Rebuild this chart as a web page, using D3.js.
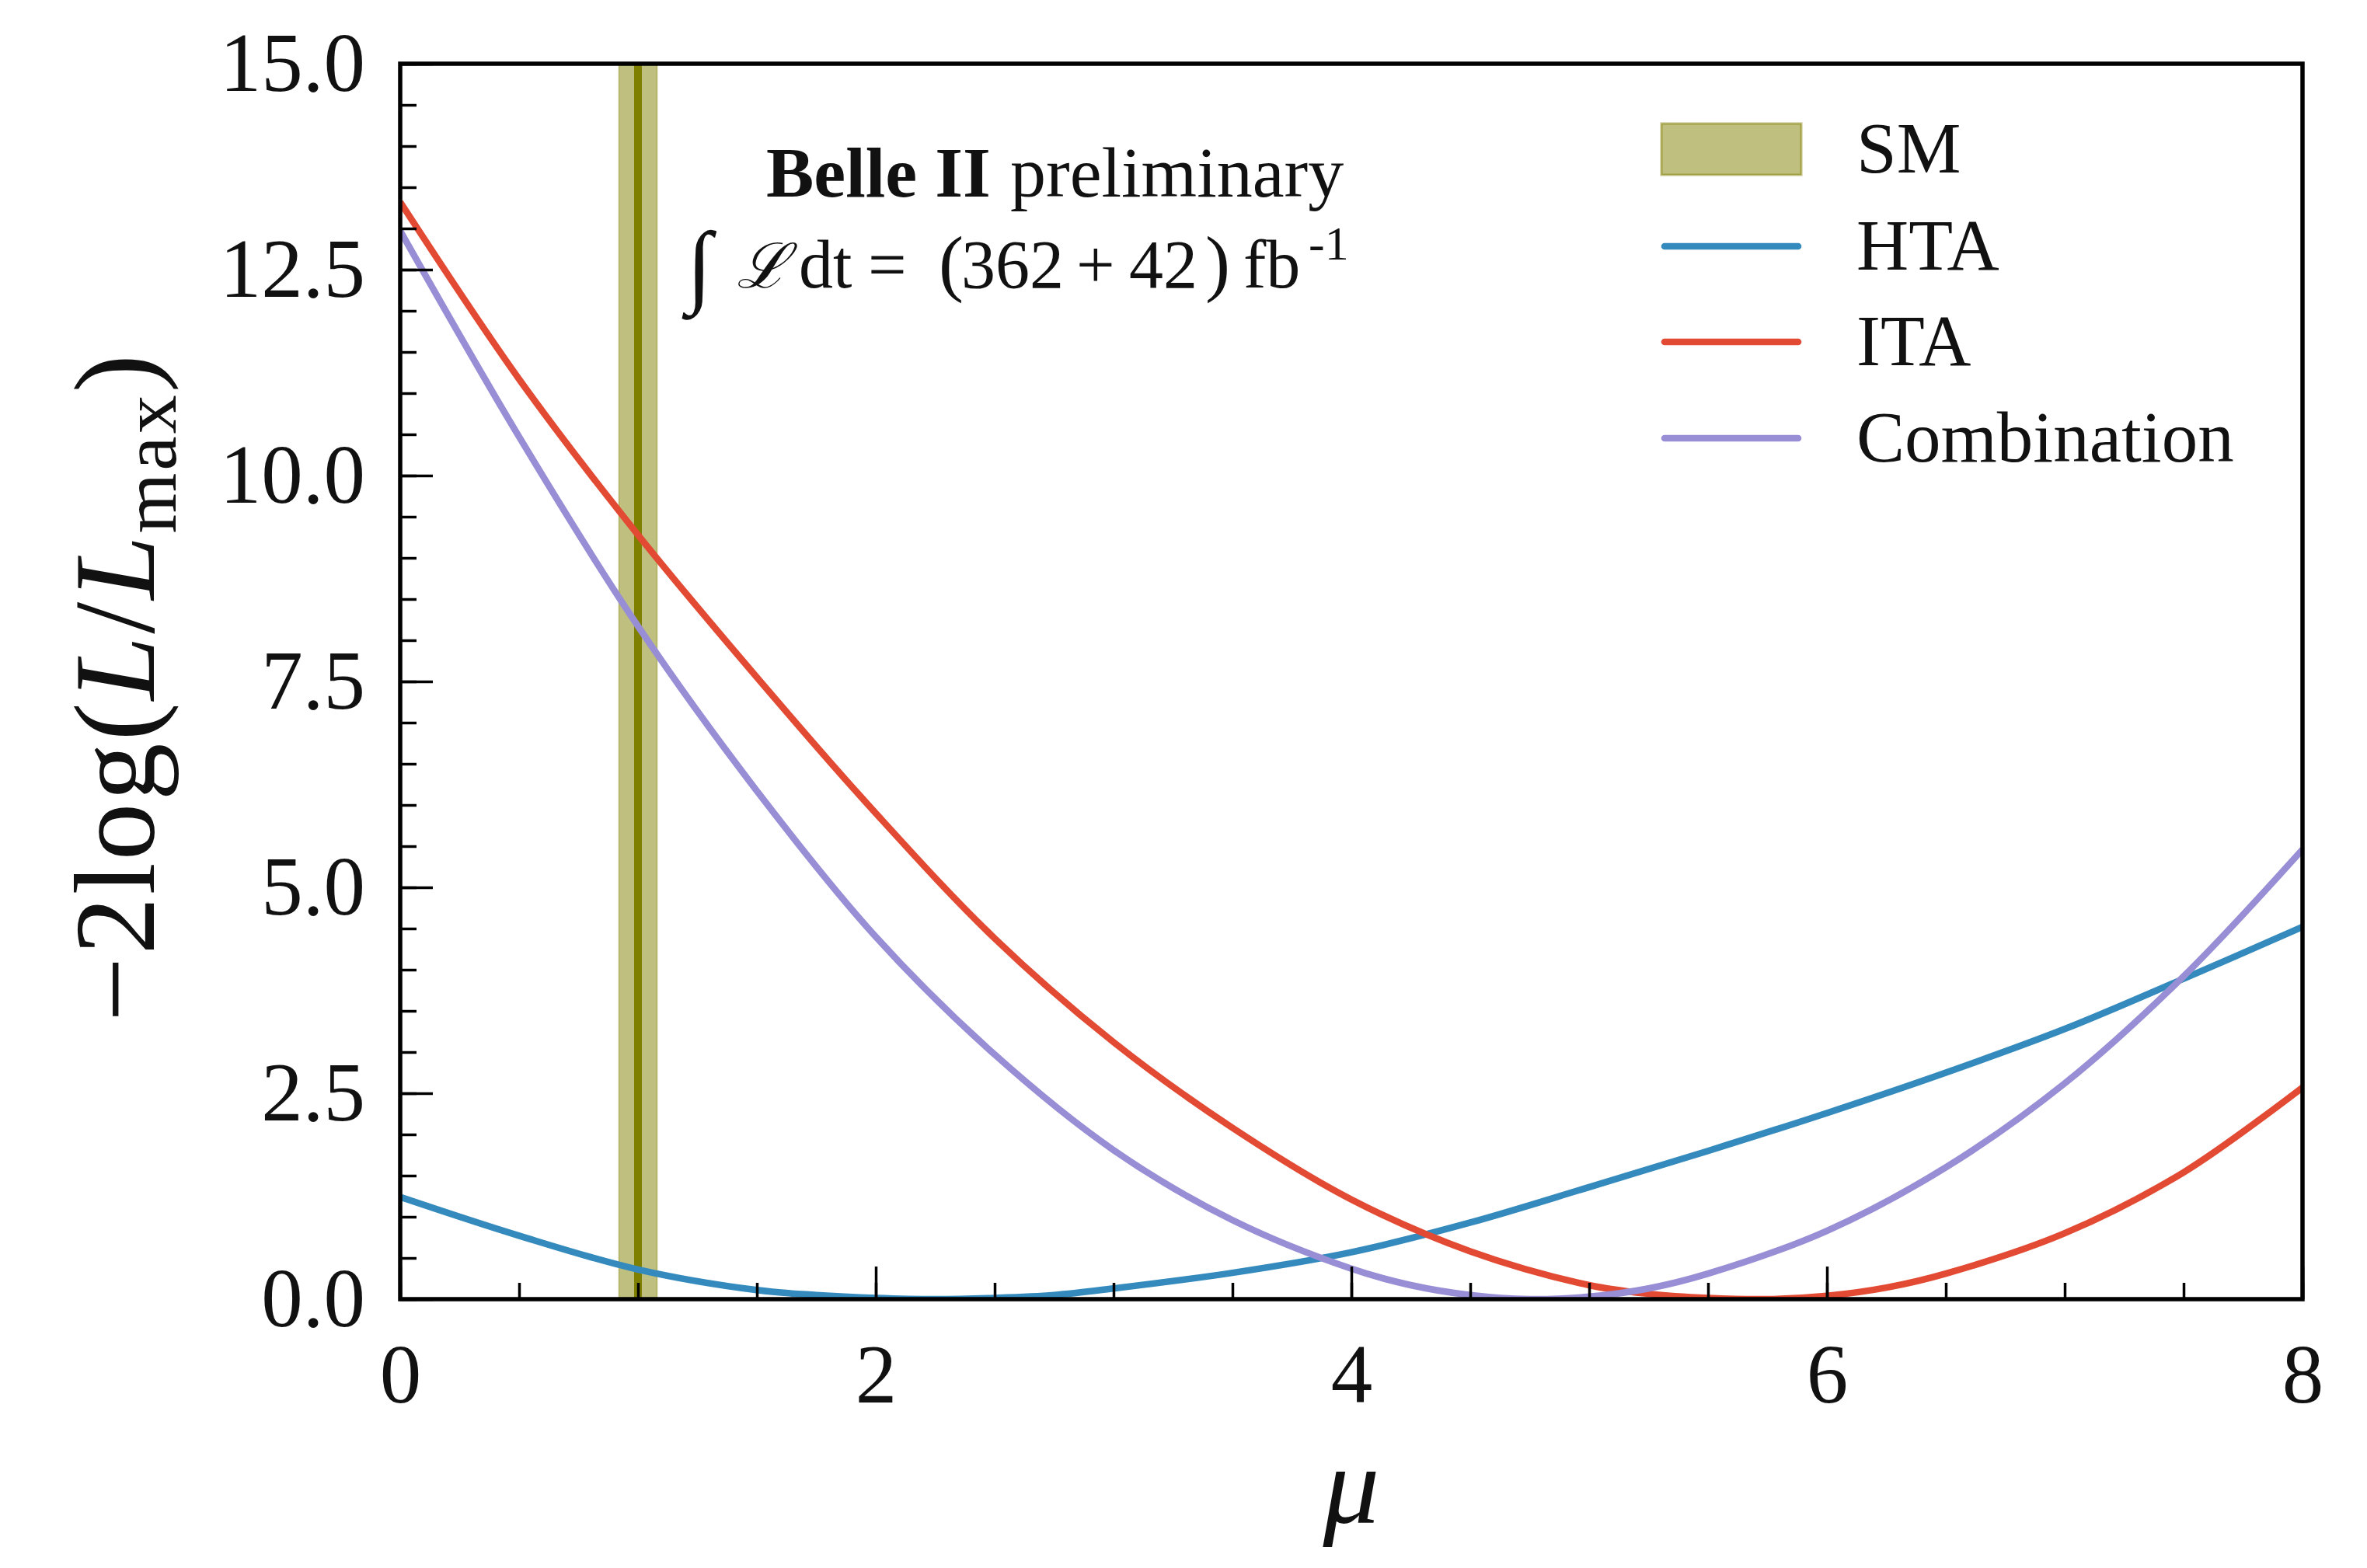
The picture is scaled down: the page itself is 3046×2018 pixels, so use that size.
<!DOCTYPE html>
<html>
<head>
<meta charset="utf-8">
<script src="https://cdn.jsdelivr.net/npm/d3@7"></script>
<style>
  html, body { margin: 0; padding: 0; background: #ffffff; }
  svg { display: block; }
  text { font-family: "Liberation Serif", "DejaVu Serif", serif; fill: #111; }
</style>
</head>
<body>
<svg id="chart" width="3046" height="2018"></svg>
<script>
// ---------------- data ----------------
const htaMu   = [0, 0.5, 1.0, 1.5, 1.75, 2.0, 2.25, 2.5, 2.75, 3.0, 3.5, 4.0, 4.5, 5.0, 5.5, 6.0, 6.5, 7.0, 7.5, 8.0];
const htaNll  = [1.24, 0.77, 0.36, 0.11, 0.05, 0.015, 0.0, 0.015, 0.05, 0.13, 0.32, 0.57, 0.93, 1.36, 1.80, 2.26, 2.75, 3.28, 3.89, 4.52];

const itaMu   = [0, 0.5, 1.0, 1.5, 2.0, 2.5, 3.0, 3.5, 4.0, 4.5, 5.0, 5.25, 5.5, 5.75, 6.0, 6.25, 6.5, 7.0, 7.5, 8.0];
const itaNll  = [13.32, 11.17, 9.28, 7.55, 5.90, 4.38, 3.12, 2.08, 1.21, 0.58, 0.17, 0.065, 0.015, 0.0, 0.04, 0.14, 0.31, 0.80, 1.54, 2.57];

const combMu  = [0, 0.5, 1.0, 1.5, 2.0, 2.5, 3.0, 3.5, 4.0, 4.25, 4.5, 4.75, 5.0, 5.25, 5.5, 6.0, 6.5, 7.0, 7.5, 8.0];
const combNll = [12.97, 10.47, 8.17, 6.17, 4.40, 2.97, 1.81, 0.96, 0.37, 0.17, 0.05, 0.0, 0.03, 0.13, 0.31, 0.83, 1.60, 2.62, 3.92, 5.46];

const smCentral = 1.0;
const smBand    = [0.92, 1.08];

const seriesNames  = ["HTA", "ITA", "Combination"];
const seriesColors = ["#348ABD", "#E24A33", "#988ED5"];
const smName  = "SM";
const smColor = "#808000";

const xMajorTicks = [0, 2, 4, 6, 8];
const yMajorTicks = [0, 2.5, 5, 7.5, 10, 12.5, 15];
const xMinorTicks = d3.range(0, 8.01, 0.5);
const yMinorTicks = d3.range(0, 15.01, 0.5);

// ---------------- layout ----------------
const W = 3046, H = 2018;
const plot = { left: 515, right: 2963, top: 82, bottom: 1672 };

const svg = d3.select("#chart");
svg.append("rect").attr("width", W).attr("height", H).attr("fill", "#ffffff");

const x = d3.scaleLinear().domain([0, 8]).range([plot.left, plot.right]);
const y = d3.scaleLinear().domain([0, 15]).range([plot.bottom, plot.top]);

svg.append("defs").append("clipPath").attr("id", "plotclip")
  .append("rect")
  .attr("x", plot.left).attr("y", plot.top)
  .attr("width", plot.right - plot.left).attr("height", plot.bottom - plot.top);

const g = svg.append("g").attr("clip-path", "url(#plotclip)");

// SM band + central line
g.append("rect")
  .attr("x", x(smBand[0])).attr("y", plot.top)
  .attr("width", x(smBand[1]) - x(smBand[0]))
  .attr("height", plot.bottom - plot.top)
  .attr("fill", smColor).attr("fill-opacity", 0.5)
  .attr("stroke", smColor).attr("stroke-opacity", 0.35).attr("stroke-width", 2);
g.append("line")
  .attr("x1", x(smCentral)).attr("x2", x(smCentral))
  .attr("y1", plot.top).attr("y2", plot.bottom)
  .attr("stroke", smColor).attr("stroke-width", 10);

// curves
const seriesData = [
  d3.zip(htaMu, htaNll),
  d3.zip(itaMu, itaNll),
  d3.zip(combMu, combNll)
];
const line = d3.line()
  .x(d => x(d[0])).y(d => y(d[1]))
  .curve(d3.curveCatmullRom.alpha(0.5));

seriesData.forEach((data, i) => {
  g.append("path")
    .datum(data)
    .attr("d", line)
    .attr("fill", "none")
    .attr("stroke", seriesColors[i])
    .attr("stroke-width", 8.5)
    .attr("stroke-linejoin", "round");
});

// ---------------- axes (inward ticks) ----------------
const tickFont = 107;

const xMinorAxis = d3.axisBottom(x).tickValues(xMinorTicks).tickSize(-21).tickFormat("");
const xMajorAxis = d3.axisBottom(x).tickValues(xMajorTicks).tickSize(-42).tickPadding(57)
  .tickFormat(d3.format("d"));
const yMinorAxis = d3.axisLeft(y).tickValues(yMinorTicks).tickSize(-21).tickFormat("");
const yMajorAxis = d3.axisLeft(y).tickValues(yMajorTicks).tickSize(-42).tickPadding(45)
  .tickFormat(d3.format(".1f"));

function styleAxis(sel) {
  sel.select(".domain").remove();
  sel.selectAll(".tick line").attr("stroke", "#000").attr("stroke-width", 3.5);
  sel.selectAll(".tick text")
    .attr("font-family", "'Liberation Serif', 'DejaVu Serif', serif")
    .attr("font-size", tickFont).attr("fill", "#111");
}

svg.append("g").attr("transform", `translate(0,${plot.bottom})`).call(xMinorAxis).call(styleAxis);
svg.append("g").attr("transform", `translate(0,${plot.bottom})`).call(xMajorAxis).call(styleAxis);
svg.append("g").attr("transform", `translate(${plot.left},0)`).call(yMinorAxis).call(styleAxis);
svg.append("g").attr("transform", `translate(${plot.left},0)`).call(yMajorAxis).call(styleAxis);

// frame
svg.append("rect")
  .attr("x", plot.left).attr("y", plot.top)
  .attr("width", plot.right - plot.left).attr("height", plot.bottom - plot.top)
  .attr("fill", "none").attr("stroke", "#000").attr("stroke-width", 5.5);

// ---------------- axis titles ----------------
svg.append("text")
  .attr("x", (plot.left + plot.right) / 2).attr("y", 1960)
  .attr("text-anchor", "middle")
  .attr("font-size", 145).attr("font-style", "italic")
  .text("μ");

const yl = svg.append("text")
  .attr("transform", `translate(198,${884}) rotate(-90)`)
  .attr("text-anchor", "middle")
  .attr("font-size", 148)
  .attr("letter-spacing", 3);
yl.append("tspan").text("−2log(");
yl.append("tspan").attr("font-style", "italic").text("L");
yl.append("tspan").text("/");
yl.append("tspan").attr("font-style", "italic").text("L");
yl.append("tspan").attr("font-size", 100).attr("dy", 28).text("max");
yl.append("tspan").attr("dy", -28).text(")");

// ---------------- annotation ----------------
const ann1 = svg.append("text").attr("y", 253).attr("font-size", 92);
ann1.append("tspan").attr("x", 986).attr("font-weight", "bold").text("Belle II");
ann1.append("tspan").attr("x", 1300).text("preliminary");

const ann2 = svg.append("text").attr("y", 370).attr("font-size", 88);
ann2.append("tspan").attr("x", 884).attr("font-size", 118).attr("font-style", "italic").attr("dy", 10).text("∫");
ann2.append("tspan").attr("x", 948).attr("dy", -10).attr("font-family", "'DejaVu Serif', serif").attr("font-style", "italic").attr("font-size", 80).text("ℒ");
ann2.append("tspan").attr("x", 1028).text("dt");
ann2.append("tspan").attr("x", 1117).text("=");
ann2.append("tspan").attr("x", 1208).attr("font-size", 96).text("(");
ann2.append("tspan").attr("x", 1237).text("362");
ann2.append("tspan").attr("x", 1385).text("+");
ann2.append("tspan").attr("x", 1453).text("42");
ann2.append("tspan").attr("x", 1551).attr("font-size", 96).text(")");
ann2.append("tspan").attr("x", 1600).text("fb");
ann2.append("tspan").attr("x", 1684).attr("dy", -36).attr("font-size", 62).text("-1");

// ---------------- legend ----------------
const legX0 = 2138, legX1 = 2318, legTextX = 2389, legFont = 93;
const legRows = [192, 317, 440, 564];

svg.append("rect")
  .attr("x", legX0).attr("y", legRows[0] - 33)
  .attr("width", legX1 - legX0).attr("height", 66)
  .attr("fill", smColor).attr("fill-opacity", 0.5)
  .attr("stroke", smColor).attr("stroke-opacity", 0.5).attr("stroke-width", 3);
svg.append("text")
  .attr("x", legTextX).attr("y", legRows[0] + 30)
  .attr("font-size", legFont).text(smName);

seriesNames.forEach((name, i) => {
  const yy = legRows[i + 1];
  svg.append("line")
    .attr("x1", legX0 + 4).attr("x2", legX1 - 4)
    .attr("y1", yy).attr("y2", yy)
    .attr("stroke", seriesColors[i]).attr("stroke-width", 8.5)
    .attr("stroke-linecap", "round");
  svg.append("text")
    .attr("x", legTextX).attr("y", yy + 30)
    .attr("font-size", legFont).text(name);
});
</script>
</body>
</html>
